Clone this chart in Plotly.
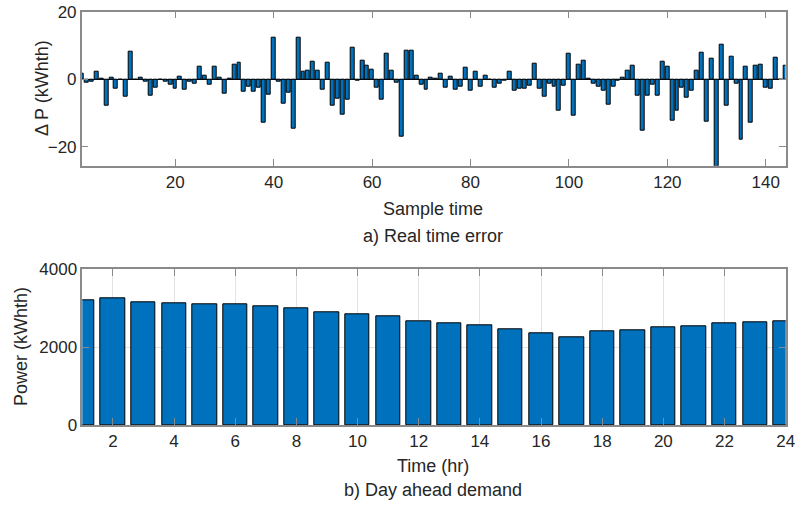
import plotly.graph_objects as go

# ---- data ----
sample_time = list(range(1, 145))
delta_p = [
    1.5, -1.0, -0.8, 2.1, 0.1, -7.7, 0.6, -2.8, 0.0, -5.3,
    8.3, -0.1, 0.4, -0.8, -5.0, -2.5, -0.2, -0.7, -1.7, -2.8,
    0.8, -3.0, -0.7, -1.2, 3.8, 1.1, -1.6, 3.7, 0.6, -4.4,
    0.1, 4.2, 4.8, -3.6, -2.1, -3.6, -2.6, -12.8, -4.7, 12.3,
    -0.6, -7.2, -3.9, -14.6, 12.3, 2.1, 2.4, 5.1, 2.5, -3.0,
    4.9, -7.9, -5.8, -10.5, -6.0, 9.3, -0.4, 5.5, 4.0, 2.9,
    -2.4, -6.1, 7.6, 2.4, -1.1, -16.9, 8.6, 8.4, 1.1, -1.7,
    -3.0, 0.5, 0.1, 1.7, -2.5, 0.9, -3.0, -2.2, 3.5, -3.3,
    2.3, -2.1, 1.0, 0.0, -2.5, -1.3, -0.3, 2.3, -3.5, -2.7,
    -2.8, -1.8, 4.7, -2.9, -5.3, -1.3, -2.1, -9.4, -1.9, 7.7,
    -10.8, 4.4, 5.5, 0.1, -1.2, -2.1, -3.5, -7.5, -2.2, -0.4,
    0.6, 2.5, 4.1, -4.9, -15.2, -4.9, -1.5, -4.8, 5.2, 3.8,
    -12.2, -9.2, -2.5, -5.5, -3.3, 2.4, 8.0, -12.7, 6.1, -26.0,
    10.2, -7.7, 6.6, -1.3, -17.9, 3.7, -13.0, 4.0, 4.3, -2.5,
    -2.8, 6.5, -0.2, 4.1,
]
hours = list(range(1, 25))
demand = [
    3200, 3250, 3145, 3120, 3100, 3095, 3050, 3000, 2905, 2853,
    2802, 2656, 2604, 2553, 2450, 2357, 2254, 2408, 2442, 2501,
    2537, 2604, 2630, 2656,
]
top_xticks = [20, 40, 60, 80, 100, 120, 140]
top_yticks = [-20, 0, 20]
bot_xticks = [2, 4, 6, 8, 10, 12, 14, 16, 18, 20, 22, 24]
bot_yticks = [0, 2000, 4000]

W, H = 796, 507
BLUE = "#0072BD"
FRAME = "#8a8a8a"
TXT = "#262626"
FONT = "Liberation Sans, Arial, Helvetica, sans-serif"


def px(x):
    return x / W


def py(y):
    return 1 - y / H


fig = go.Figure()
fig.add_trace(go.Bar(
    x=sample_time, y=delta_p, width=0.8,
    marker=dict(color=BLUE, line=dict(color="black", width=1)),
    xaxis="x", yaxis="y", showlegend=False,
))
fig.add_trace(go.Bar(
    x=hours, y=demand, width=0.8,
    marker=dict(color=BLUE, line=dict(color="black", width=1)),
    xaxis="x2", yaxis="y2", showlegend=False,
))

axis_common = dict(
    showline=True, linecolor=FRAME, linewidth=1.5, mirror="ticks",
    ticks="inside", ticklen=7, tickcolor=FRAME, tickwidth=1,
    tickfont=dict(family=FONT, size=17, color=TXT),
    automargin=False,
)

fig.update_layout(
    template="none",
    width=W, height=H, autosize=False,
    margin=dict(l=0, r=0, t=0, b=0, pad=0),
    paper_bgcolor="white", plot_bgcolor="white",
    bargap=0,
    xaxis=dict(domain=[px(81.7), px(785.5)], range=[1, 144],
               tickvals=top_xticks, showgrid=False, zeroline=False,
               anchor="y", **axis_common),
    yaxis=dict(domain=[py(165.7), py(11.7)], range=[-25.6, 20],
               tickvals=top_yticks, showgrid=False, zeroline=True,
               zerolinecolor="black", zerolinewidth=1,
               anchor="x", **axis_common),
    xaxis2=dict(domain=[px(82.3), px(785.7)], range=[1, 24],
                tickvals=bot_xticks, showgrid=True, gridcolor="#e3e3e3",
                gridwidth=1, zeroline=False, anchor="y2", **axis_common),
    yaxis2=dict(domain=[py(425), py(269.3)], range=[0, 4000],
                tickvals=bot_yticks, showgrid=True, gridcolor="#e3e3e3",
                gridwidth=1, zeroline=False, anchor="x2", **axis_common),
)

ann_font = dict(family=FONT, size=18, color=TXT)
annots = [
    ("Δ P (kWhth)", 42, 88, -90),
    ("Sample time", 433, 209, 0),
    ("a) Real time error", 433, 236, 0),
    ("Power (kWhth)", 21, 347, -90),
    ("Time (hr)", 433, 466, 0),
    ("b) Day ahead demand", 433, 490, 0),
]
for text, x, y, ang in annots:
    fig.add_annotation(text=text, x=px(x), y=py(y), xref="paper", yref="paper",
                       showarrow=False, textangle=ang, font=ann_font,
                       xanchor="center", yanchor="middle")

fig.write_html("out.html")
